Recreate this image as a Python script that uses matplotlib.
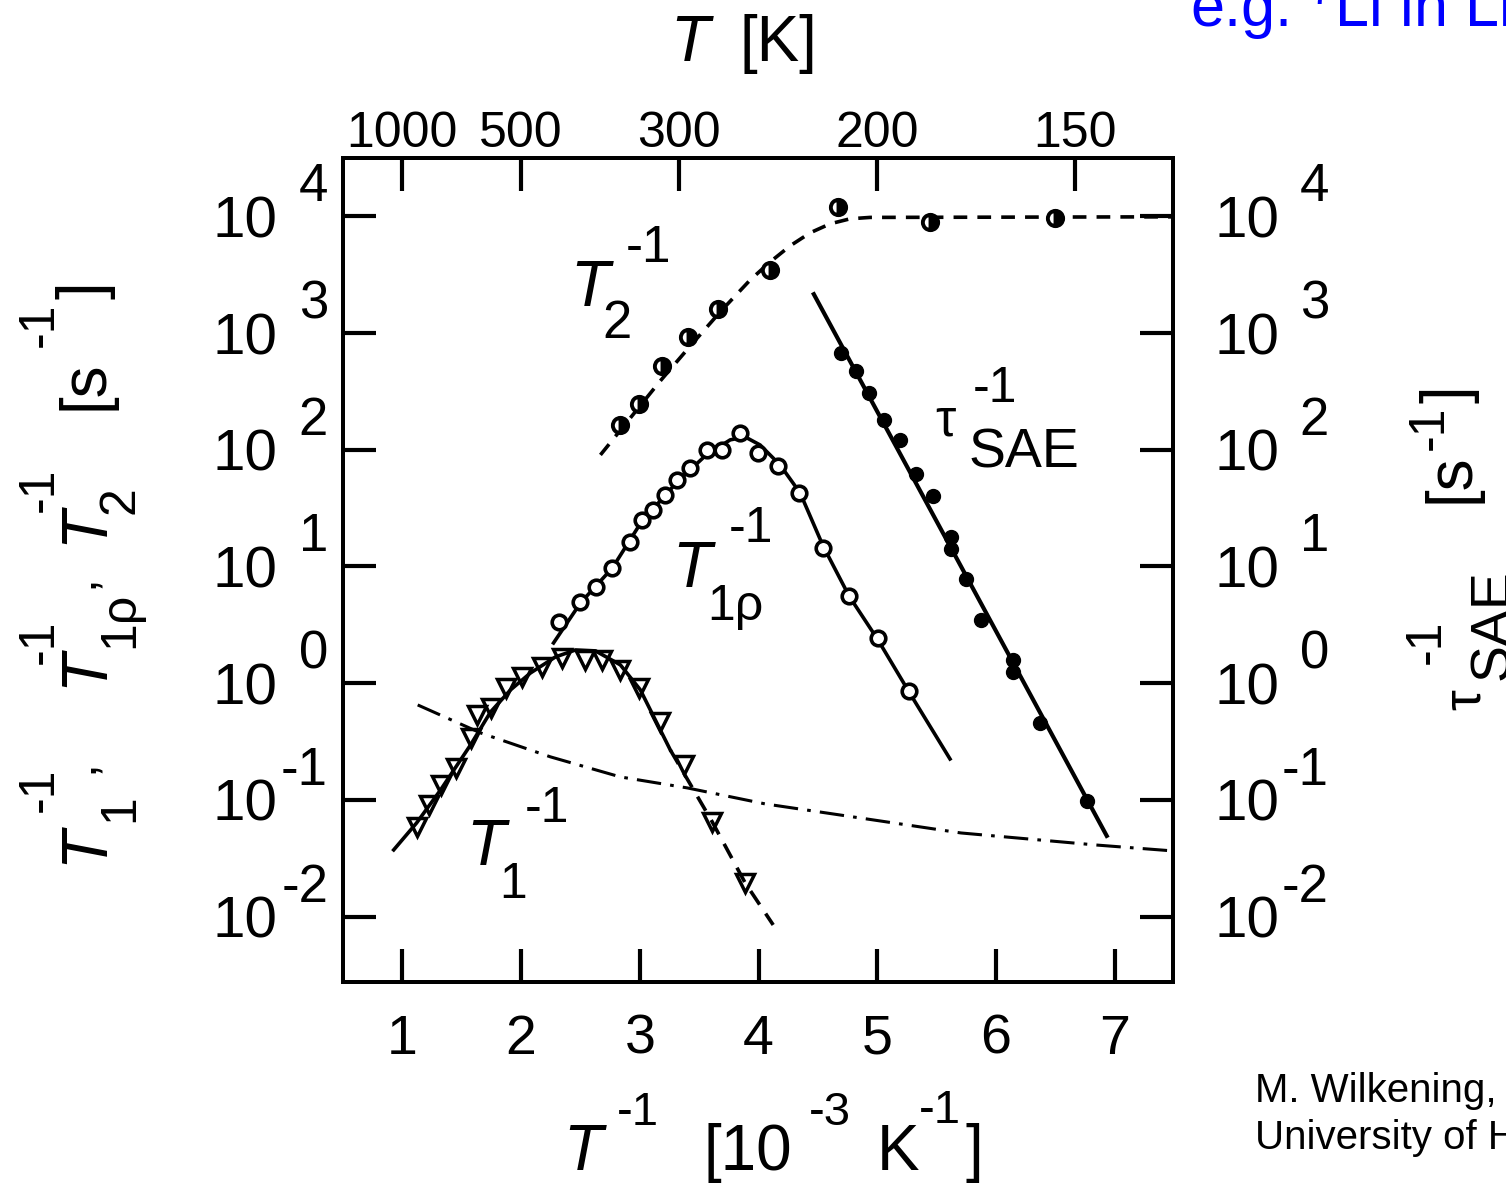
"""Arrhenius plot of NMR relaxation rates: T1, T1rho, T2 and SAE decay rates."""
import matplotlib

matplotlib.use("Agg")
import matplotlib.pyplot as plt  # noqa: E402
import numpy as np  # noqa: E402
from matplotlib.ticker import NullFormatter, NullLocator  # noqa: E402

W, H = 1506, 1183

plt.rcParams["font.family"] = ["Liberation Sans", "DejaVu Sans"]
plt.rcParams["mathtext.fontset"] = "custom"
plt.rcParams["mathtext.rm"] = "Liberation Sans"
plt.rcParams["mathtext.it"] = "Liberation Sans:italic"

# x = 1000/T in 10^-3 K^-1, rates stored as log10(rate / s^-1)
t1_x = [1.126, 1.224, 1.322, 1.448, 1.574, 1.631, 1.743, 1.869, 2.009, 2.177,
        2.346, 2.542, 2.682, 2.836, 2.990, 3.172, 3.368, 3.607, 3.887]
t1_lg = [-1.229, -1.043, -0.871, -0.728, -0.471, -0.272, -0.214, -0.043, 0.057, 0.142,
         0.214, 0.200, 0.200, 0.114, -0.043, -0.329, -0.700, -1.186, -1.714]

t1rho_x = [2.317, 2.500, 2.630, 2.769, 2.920, 3.018, 3.114, 3.214, 3.315, 3.425,
           3.564, 3.694, 3.845, 3.999, 4.165, 4.337, 4.539, 4.762, 5.002, 5.267]
t1rho_lg = [0.528, 0.697, 0.825, 0.985, 1.211, 1.395, 1.485, 1.614, 1.742, 1.845,
            2.000, 2.000, 2.142, 1.971, 1.862, 1.631, 1.159, 0.745, 0.388, -0.066]

t2_x = [2.836, 2.997, 3.190, 3.408, 3.660, 4.096, 4.668, 5.442, 6.494]
t2_lg = [2.213, 2.393, 2.719, 2.967, 3.207, 3.541, 4.081, 3.953, 3.987]

sae_x = [4.690, 4.817, 4.930, 5.056, 5.191, 5.326, 5.467, 5.620, 5.620, 5.746,
         5.876, 6.141, 6.141, 6.368, 6.763]
sae_lg = [2.830, 2.676, 2.488, 2.256, 2.085, 1.789, 1.601, 1.249, 1.151, 0.894,
          0.542, 0.200, 0.097, -0.340, -1.008]

# fitted curves
fit_t1_x = [0.927, 1.120, 1.322, 1.574, 1.743, 1.911, 2.079, 2.289, 2.458, 2.626,
            2.836, 3.004, 3.256]
fit_t1_lg = [-1.428, -1.197, -0.914, -0.529, -0.246, -0.057, 0.088, 0.225, 0.285, 0.277,
             0.157, -0.057, -0.571]
fit_t1_tail_x = [3.256, 3.610, 3.887, 4.123]
fit_t1_tail_lg = [-0.571, -1.189, -1.711, -2.071]

fit_t1rho_x = [2.273, 2.500, 2.769, 3.013, 3.315, 3.559, 3.761, 3.887, 4.013, 4.181,
               4.350, 4.543, 4.762, 5.006, 5.267, 5.612]
fit_t1rho_lg = [0.345, 0.688, 0.988, 1.382, 1.725, 1.956, 2.085, 2.110, 2.041, 1.870,
                1.630, 1.176, 0.747, 0.370, -0.075, -0.649]

fit_t2_x = [2.668, 2.920, 3.172, 3.425, 3.677, 3.930, 4.098, 4.265, 4.434, 4.602,
            4.770, 4.939, 7.49]
fit_t2_lg = [1.956, 2.273, 2.590, 2.890, 3.182, 3.456, 3.610, 3.747, 3.859, 3.936,
             3.979, 3.991, 3.996]

fit_sae_x = [4.465, 6.932]
fit_sae_lg = [3.333, -1.308]

# non-diffusive background rate
bg_x = [1.129, 1.659, 2.247, 2.836, 3.399, 4.055, 4.686, 5.704, 6.840, 7.49]
bg_lg = [-0.186, -0.426, -0.631, -0.803, -0.897, -1.034, -1.129, -1.283, -1.386, -1.437]

decades = [-2, -1, 0, 1, 2, 3, 4]
x_ticks = [1, 2, 3, 4, 5, 6, 7]
temp_ticks = [1000, 500, 300, 200, 150]


def rate(lg):
    return 10.0 ** np.asarray(lg)


fig = plt.figure(figsize=(W / 100, H / 100), dpi=100)
ax = fig.add_axes([343 / W, 1 - 982 / H, 830 / W, 824 / H])
top = ax.twiny()

ax.plot(bg_x, rate(bg_lg), color="k", lw=2.2, dashes=[8, 3, 1.2, 3])
ax.plot(fit_t1_x, rate(fit_t1_lg), color="k", lw=2.6)
ax.plot(fit_t1_tail_x, rate(fit_t1_tail_lg), color="k", lw=2.6, dashes=[4.5, 3])
ax.plot(fit_t1rho_x, rate(fit_t1rho_lg), color="k", lw=2.6)
ax.plot(fit_t2_x, rate(fit_t2_lg), color="k", lw=2.6, dashes=[3.8, 2.8])
ax.plot(fit_sae_x, rate(fit_sae_lg), color="k", lw=3.0)

ax.plot(t1_x, rate(t1_lg), ls="none", marker="v", ms=13, mfc="none", mec="k", mew=2.5)
ax.plot(t1rho_x, rate(t1rho_lg), ls="none", marker="o", ms=10.5, mfc="white",
        mec="k", mew=2.6)
ax.plot(t2_x, rate(t2_lg), ls="none", marker="o", ms=11, fillstyle="right",
        mfc="k", markerfacecoloralt="white", mec="k", mew=2.8)
ax.plot(sae_x, rate(sae_lg), ls="none", marker="o", ms=10, mfc="k", mec="k")

ax.set_xlim(0.5, 7.49)
ax.set_yscale("log")
ax.set_ylim(10 ** -2.56, 10 ** 4.5)
ax.set_xticks(x_ticks)
ax.set_xticklabels([str(v) for v in x_ticks])
ax.set_yticks([10.0 ** d for d in decades])
ax.yaxis.set_major_formatter(NullFormatter())
ax.yaxis.set_minor_locator(NullLocator())
ax.tick_params(axis="both", which="major", direction="in", length=24, width=3)
ax.tick_params(axis="x", top=False, bottom=True, labelsize=40, pad=23)
ax.tick_params(axis="y", left=True, right=True, labelleft=False)
for s in ax.spines.values():
    s.set_linewidth(2.8)

top.set_xlim(ax.get_xlim())
top.set_xticks([1000 / t for t in temp_ticks])
top.set_xticklabels([str(t) for t in temp_ticks])
top.tick_params(axis="x", direction="in", length=24, width=3, labelsize=36, pad=1)
for s in top.spines.values():
    s.set_linewidth(2.8)

# decade labels on both sides: "10" with a raised exponent
for d in decades:
    for xa, off10, offexp in ((0, -66, -15), (1, 106, 156)):
        ax.annotate("10", xy=(xa, 10.0 ** d), xycoords=("axes fraction", "data"),
                    xytext=(off10, -21), textcoords="offset pixels",
                    ha="right", va="baseline", fontsize=42)
        ax.annotate(f"{d}", xy=(xa, 10.0 ** d), xycoords=("axes fraction", "data"),
                    xytext=(offexp, 15), textcoords="offset pixels",
                    ha="right", va="baseline", fontsize=38)


def put(px, py, s, size, rot=0, **kw):
    fig.text(px / W, 1 - py / H, s, fontsize=size, rotation=rot,
             rotation_mode="anchor", ha="center", va="baseline", **kw)


# axis titles
put(690, 61, "T", 46, style="italic")
put(778, 61, "[K]", 46)

put(583, 1170, "T", 46, style="italic")
put(638, 1125, "-1", 34)
put(748, 1170, "[10", 46)
put(830, 1125, "-3", 34)
put(898, 1170, "K", 46)
put(940, 1123, "-1", 34)
put(974, 1170, "]", 46)

put(102, 845, "T", 46, 90, style="italic")
put(133, 808, "1", 36, 90)
put(53, 790, "-1", 36, 90)
put(92, 766, ",", 36, 90)
put(102, 668, "T", 46, 90, style="italic")
put(133, 620, "1ρ", 36, 90)
put(53, 642, "-1", 36, 90)
put(92, 581, ",", 36, 90)
put(102, 525, "T", 46, 90, style="italic")
put(133, 500, "2", 36, 90)
put(53, 490, "-1", 36, 90)
put(102, 385, "[s", 46, 90)
put(53, 325, "-1", 36, 90)
put(102, 290, "]", 46, 90)

put(1467, 394, "]", 46, 90)
put(1443, 428, "-1", 36, 90)
put(1468, 478, "[s", 46, 90)
put(1480, 700, "τ", 38, 90)
put(1440, 642, "-1", 36, 90)
put(1508, 625, "SAE", 40, 90)

# curve labels
put(590, 306, "T", 46, style="italic")
put(617, 338, "2", 38)
put(649, 262, "-1", 37)
put(945, 435, "τ", 37)
put(995, 402, "-1", 36)
put(1024, 467, "SAE", 40)
put(692, 587, "T", 46, style="italic")
put(735, 620, "1ρ", 36)
put(751, 542, "-1", 36)
put(486, 865, "T", 46, style="italic")
put(513, 898, "1", 36)
put(547, 822, "-1", 36)

fig.text(1190 / W, 1 - 27 / H, "e.g. $^{7}$Li in Li", color="#0000ff", fontsize=44,
         ha="left", va="baseline")
fig.text(1255 / W, 1 - 1102 / H, "M. Wilkening,", fontsize=29, ha="left", va="baseline")
fig.text(1255 / W, 1 - 1149 / H, "University of Hannover", fontsize=29, ha="left",
         va="baseline")

fig.savefig("out.png", dpi=100)
